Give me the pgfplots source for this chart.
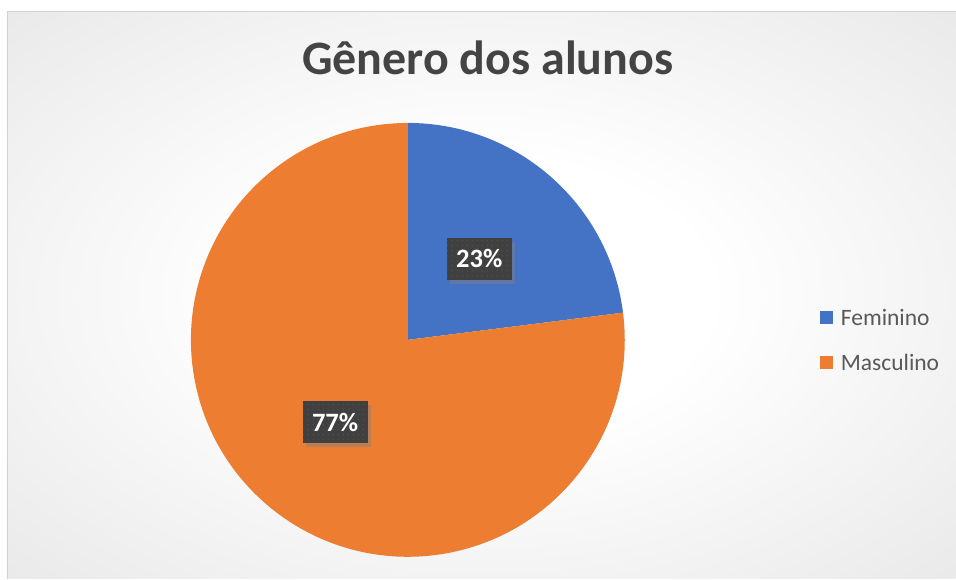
\documentclass[border=0pt]{standalone}
\usepackage{pgfplots}
\pgfplotsset{compat=1.18}
\usepackage{pgfplotstable}
\usepackage{fontspec}
\setmainfont{Carlito}
\usetikzlibrary{shadows,patterns.meta}

\definecolor{cF}{HTML}{4472C4}
\definecolor{cM}{HTML}{ED7D31}
\definecolor{titlegray}{HTML}{444444}
\definecolor{legendgray}{HTML}{595959}
\definecolor{boxgray}{HTML}{404040}
\definecolor{dotgray}{HTML}{505050}
\definecolor{bgedge}{HTML}{C6C6C6}
\definecolor{bgmid}{HTML}{DCDCDC}

\pgfdeclareradialshading{chartbg}{\pgfpoint{0bp}{0bp}}{%
  color(0bp)=(white); color(12bp)=(white); color(50bp)=(bgmid); color(71bp)=(bgedge); color(100bp)=(bgedge)}

\tikzdeclarepattern{
  name=boxdots, type=uncolored,
  bottom left={(0pt,0pt)}, top right={(5.3pt,5.3pt)}, tile size={(5.3pt,5.3pt)},
  code={\pgfpathcircle{\pgfpoint{2.65pt}{2.65pt}}{0.9pt}\pgfusepath{fill}}
}

% slice values
\pgfplotstableread{
label value
Feminino 23
Masculino 77
}\datatable

\tikzset{datalabel/.style={fill=boxgray, text=white, font=\bfseries\fontsize{26.5}{32}\selectfont,
    minimum width=65pt, minimum height=42pt, inner sep=0pt,
    drop shadow={opacity=0.45, shadow xshift=3pt, shadow yshift=-4pt},
    postaction={pattern=boxdots, pattern color=dotgray}}}

\begin{document}
\begin{tikzpicture}
\pgfplotstablegetelem{0}{value}\of\datatable \let\vF\pgfplotsretval
\pgfplotstablegetelem{1}{value}\of\datatable \let\vM\pgfplotsretval
\pgfmathsetmacro\total{\vF+\vM}
\pgfmathsetmacro\aF{90-\vF/\total*360}
\pgfmathsetmacro\aM{\aF-\vM/\total*360}
\pgfmathsetmacro\mF{(90+\aF)/2}
\pgfmathsetmacro\mM{(\aF+\aM)/2}
\pgfmathtruncatemacro\pF{round(\vF/\total*100)}
\pgfmathtruncatemacro\pM{round(\vM/\total*100)}
\begin{axis}[
    width=956pt, height=579pt, scale only axis,
    xmin=0, xmax=956, ymin=0, ymax=579, y dir=reverse,
    hide axis, clip=false,
    legend style={at={(axis cs:817,305)}, anchor=north west, draw=none, fill=none,
      font=\fontsize{23.5}{28}\selectfont, text=legendgray, row sep=23pt},
    legend cell align=left,
    legend image code/.code={\fill[#1] (0pt,-6.5pt) rectangle (13pt,6.5pt); \path (19pt,0pt);},
  ]
  % background
  \fill[white] (axis cs:0,0) rectangle (axis cs:956,579);
  \shade[shading=chartbg] (axis cs:7,11) rectangle (axis cs:956,579);
  \draw[gray!35, line width=0.8pt] (axis cs:7,579) -- (axis cs:7,11) -- (axis cs:956,11);

  % slices
  \fill[cF] (axis cs:408,340) -- ++(90:217pt) arc[start angle=90, end angle=\aF, radius=217pt] -- cycle;
  \fill[cM] (axis cs:408,340) -- ++(\aF:217pt) arc[start angle=\aF, end angle=\aM, radius=217pt] -- cycle;

  % data labels
  \node[datalabel] at (axis cs:408,340) [shift={(\mF:108pt)}] {\pF\%};
  \node[datalabel] at (axis cs:408,340) [shift={(\mM:110pt)}] {\pM\%};

  % title
  \node[anchor=base, font=\bfseries\fontsize{48}{58}\selectfont, text=titlegray]
        at (axis cs:488,75) {Gênero dos alunos};

  \addlegendimage{fill=cF, draw=none}
  \addlegendentry{Feminino}
  \addlegendimage{fill=cM, draw=none}
  \addlegendentry{Masculino}
\end{axis}
\end{tikzpicture}
\end{document}
